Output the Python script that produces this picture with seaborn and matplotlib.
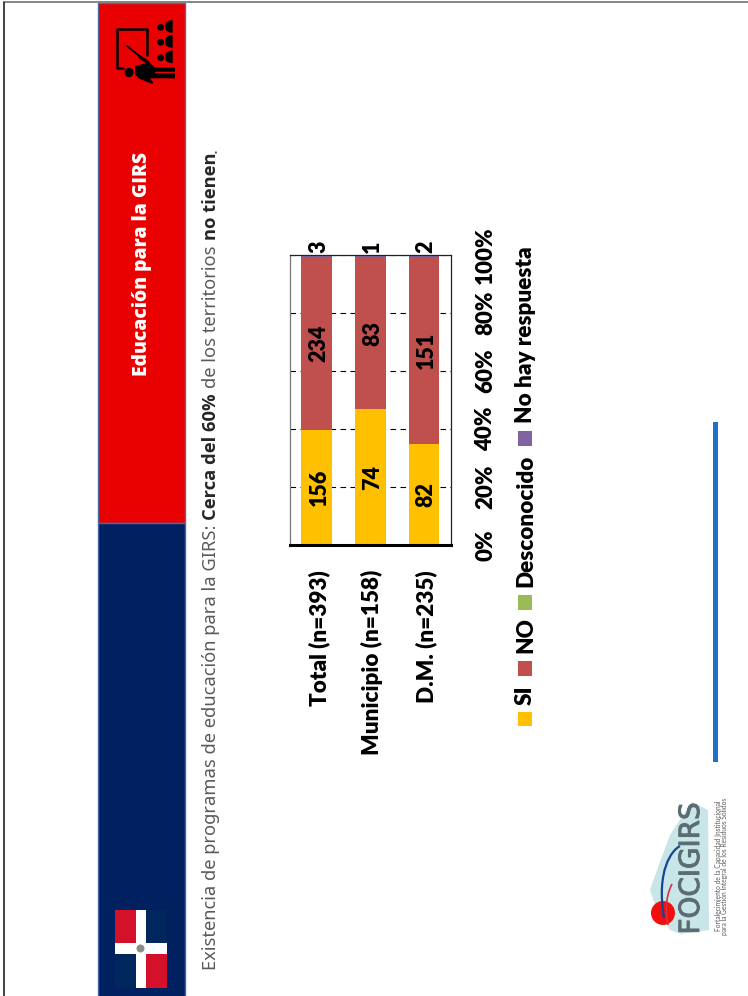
import matplotlib
matplotlib.use("Agg")
import matplotlib.pyplot as plt
from matplotlib.patches import Rectangle, Polygon, Circle, Ellipse, PathPatch
from matplotlib.path import Path
from matplotlib.patheffects import withStroke
from matplotlib.transforms import ScaledTranslation
import pandas as pd
import seaborn as sns

# Survey counts per territory group
territorios = ["Total (n=393)", "Municipio (n=158)", "D.M. (n=235)"]
si = [156, 74, 82]
no = [234, 83, 151]
desconocido = [0, 0, 0]
sin_respuesta = [3, 1, 2]

categorias = ["SI", "NO", "Desconocido", "No hay respuesta"]
colores = ["#FFC000", "#C0504D", "#9BBB59", "#8064A2"]
ticks_pct = [0, 20, 40, 60, 80, 100]

titulo = "Educación para la GIRS"
subtitulo = [("Existencia de programas de educación para la GIRS:", "normal"),
             ("Cerca del 60%", "bold"), ("de los territorios", "normal"),
             ("no tienen", "bold"), (".", "normal")]

NAVY, RED, EDGE = "#002060", "#E90000", "#4A6AA5"
W, H = 748, 996
NEGRITA = 800

sns.set_theme(style="white")
plt.rcParams["font.family"] = ["Lato", "DejaVu Sans"]

fig = plt.figure(figsize=(W / 100, H / 100), dpi=100, facecolor="white")

# Full-page layer in pixel units for the slide furniture
page = fig.add_axes([0, 0, 1, 1], zorder=0)
page.set_xlim(0, W)
page.set_ylim(H, 0)
page.axis("off")

page.plot([3.5, W], [2, 2], color="#666666", lw=1.1, solid_capstyle="butt")
page.plot([4, 4], [2, H], color="#111111", lw=1.1, solid_capstyle="butt")

# Header band
page.add_patch(Rectangle((98, 3), 87, 520, fc=RED, ec=EDGE, lw=1))
page.add_patch(Rectangle((98, 523), 87, 480, fc=NAVY, ec=EDGE, lw=1))
page.text(142.5, 263.5, titulo, rotation=90, ha="center", va="center", color="white",
          fontsize=13.9, fontweight=800, family="Open Sans")

# Flag
page.add_patch(Rectangle((115, 910), 21, 33, fc="#D5102A", lw=0))
page.add_patch(Rectangle((146, 910), 21, 33, fc="#00265E", lw=0))
page.add_patch(Rectangle((115, 954), 21, 34, fc="#00265E", lw=0))
page.add_patch(Rectangle((146, 954), 21, 34, fc="#D5102A", lw=0))
page.add_patch(Rectangle((136, 910), 10, 78, fc="white", lw=0))
page.add_patch(Rectangle((115, 943), 52, 11, fc="white", lw=0))
page.add_patch(Ellipse((140.5, 948.5), 8, 8, fc="#8A8A88", lw=0))

# Teacher and audience pictogram: open board outline, pointer, figure, three seated people
page.plot([123, 117, 117, 147, 147], [68, 68, 28.5, 28.5, 55], color="black", lw=1.8,
          solid_joinstyle="round", solid_capstyle="round")
page.plot([127, 148], [46, 63], color="black", lw=1.3)
page.plot([140, 148], [57, 62.5], color="black", lw=2.4)
page.add_patch(Circle((129, 72.5), 4.6, fc="black", lw=0))
page.add_patch(Polygon([(135, 66), (147, 63), (149, 62), (155, 67.5), (175, 67.5), (175, 71.7),
                        (155, 71.7), (155, 73.3), (175, 73.3), (175, 78.3), (150, 78.3),
                        (153, 82), (152.5, 84), (140, 79), (135, 75)], fc="black", lw=0))
for cy in (27.3, 42.3, 57.7):
    page.add_patch(Circle((160.7, cy), 3.4, fc="black", lw=0))
    page.add_patch(Polygon([(165, cy - 2), (166.5, cy - 5), (169, cy - 6.8), (172.7, cy - 7.2),
                            (172.7, cy + 5.5), (169, cy + 5), (166.5, cy + 3.5), (165, cy + 1)],
                           fc="black", lw=0))

# Subtitle runs, stacked upwards along the rotated baseline
renderer = fig.canvas.get_renderer()
y = 970.0
for texto, peso in subtitulo:
    familia = "Noto Sans" if peso == "normal" else "Open Sans"
    t = page.text(211.5, y, texto, rotation=90, ha="center", va="bottom", family=familia,
                  fontsize=13.2, fontweight=peso, color="#5A5A5A" if peso == "normal" else "#262626")
    y -= t.get_window_extent(renderer).height + (0 if texto == "no tienen" else 5)

# Stacked 100% chart, percentages drawn along a vertical axis
ax = fig.add_axes([290 / W, 1 - 545 / H, 160.7 / W, 290 / H], zorder=1)
tabla = pd.DataFrame({"territorio": territorios, "SI": si, "NO": no,
                      "Desconocido": desconocido, "No hay respuesta": sin_respuesta})
n = tabla[categorias].sum(axis=1)
base = pd.Series([0.0, 0.0, 0.0])
for cat, color in zip(categorias, colores):
    pct = tabla[cat] / n * 100
    sns.barplot(x=tabla["territorio"], y=pct, color=color, width=0.573, saturation=1,
                bottom=base, ax=ax, order=territorios, linewidth=0)
    base = base + pct

etiquetas = []
for contenedor, valores in zip(ax.containers, (si, no)):
    etiquetas += ax.bar_label(contenedor, labels=[str(v) for v in valores], label_type="center",
                              rotation=90, fontsize=15.5, fontweight=NEGRITA, color="black")
etiquetas += ax.bar_label(ax.containers[3], labels=[str(v) for v in sin_respuesta], label_type="edge",
                          padding=1.5, rotation=90, fontsize=15.5, fontweight=NEGRITA, color="black")
# Nudge the rotated value labels to sit optically centred on the bars
for etiqueta in etiquetas:
    dx, dy = etiqueta.xyann
    etiqueta.xyann = (dx + 1.7, dy)

ax.set_xlim(-0.5, 2.5)
ax.set_ylim(0, 100)
ax.set_xlabel("")
ax.set_ylabel("")
ax.set_axisbelow(True)
ax.yaxis.grid(True, color="black", lw=0.8, ls=(0, (5, 4)))
ax.xaxis.grid(False)
ax.yaxis.tick_right()
ax.set_yticks(ticks_pct, [f"{v}%" for v in ticks_pct], rotation=90, va="center",
              fontsize=16, fontweight=NEGRITA, color="black")
ax.tick_params(axis="y", length=0, pad=17.5)
ax.set_xticks(range(3), territorios, rotation=90, fontsize=16.2, fontweight=NEGRITA, color="black")
ax.tick_params(axis="x", length=0, pad=18)
desplazamiento = ScaledTranslation(2 / 100, 0, fig.dpi_scale_trans)
for rotulo in ax.get_xticklabels():
    rotulo.set_transform(rotulo.get_transform() + desplazamiento)
for lado in ("top", "right"):
    ax.spines[lado].set(color="#222222", lw=0.9, visible=True)
ax.spines["left"].set(color="#777777", lw=0.9, visible=True)
ax.spines["bottom"].set(color="black", lw=2.2, visible=True)

# Legend entries run upwards in a single column
swatch_y = [711.5, 661, 595, 431]
label_y = [705, 653, 587, 423]
for cat, color, sy, ly in zip(categorias, colores, swatch_y, label_y):
    page.add_patch(Rectangle((518, sy), 14, 14.5, fc=color, lw=0))
    page.text(525.5, ly, cat, rotation=90, ha="center", va="bottom", fontsize=16.2,
              fontweight=NEGRITA, color="black")

# Blue accent rule
page.add_patch(Rectangle((713.5, 422), 5, 340, fc="#1F73C2", lw=0))

# FOCIGIRS mark
page.add_patch(Polygon([(692, 802), (708, 810), (709, 930), (680, 934), (670, 930), (655, 905),
                        (650, 890), (657, 870), (670, 835), (683, 815)], fc="#C8E5E8", lw=0))
page.add_patch(Circle((663, 913), 12, fc="#F01010", lw=0))
swoosh = Path([(664, 918), (656, 870), (672, 850), (680, 846)], [Path.MOVETO, Path.CURVE4, Path.CURVE4, Path.CURVE4])
page.add_patch(PathPatch(swoosh, fc="none", ec="#17458F", lw=1.6))
swoosh2 = Path([(668, 925), (664, 905), (668, 892), (672, 884)], [Path.MOVETO, Path.CURVE4, Path.CURVE4, Path.CURVE4])
page.add_patch(PathPatch(swoosh2, fc="none", ec="#D83040", lw=1.2))
page.text(691, 868.5, "FOCIGIRS", rotation=90, ha="center", va="center", fontsize=20,
          color="#5B6C72", family="Liberation Sans Narrow",
          path_effects=[withStroke(linewidth=0.7, foreground="#5B6C72")])
page.text(718.5, 866, "Fortalecimiento de la Capacidad Institucional", rotation=90, ha="center",
          va="center", fontsize=4.8, color="#5A5A5A")
page.text(725, 866, "para la Gestión Integral de los Residuos Sólidos", rotation=90, ha="center",
          va="center", fontsize=4.8, color="#5A5A5A")

fig.savefig("out.png", dpi=100, facecolor="white")
